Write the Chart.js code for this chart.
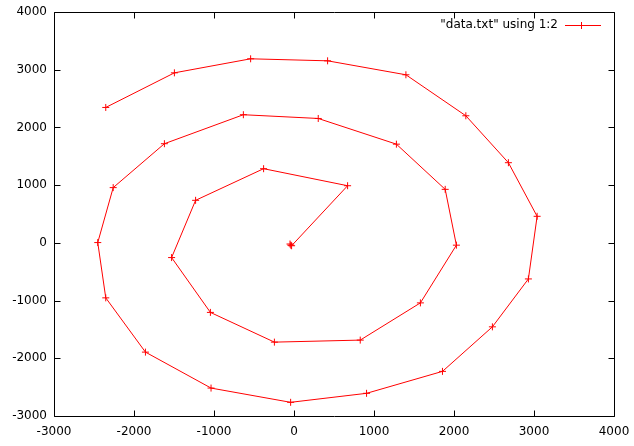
<!DOCTYPE html>
<html>
<head>
<meta charset="utf-8">
<script src="https://cdn.jsdelivr.net/npm/chart.js@4"></script>
<style>
html,body{margin:0;padding:0;background:#fff;}
#wrap{width:634px;height:446px;}
</style>
</head>
<body>
<div id="wrap"><canvas id="c" width="634" height="446"></canvas></div>
<script>
const seriesLabel = '"data.txt" using 1:2';
const xValues = [-50, -40, -30, 670, -380, -1230, -1530, -1045, -245, 828, 1580, 2030, 1890, 1280, 303, -633, -1620, -2260, -2453, -2353, -1857, -1037, -42, 907, 1856, 2480, 2930, 3039, 2680, 2148, 1399, 420, -542, -1495, -2353];
const yValues = [-20, -40, -50, 990, 1285, 737, -255, -1205, -1720, -1685, -1040, -40, 927, 1710, 2155, 2220, 1718, 957, 5, -953, -1893, -2516, -2763, -2607, -2227, -1455, -625, 460, 1389, 2202, 2912, 3154, 3189, 2946, 2346];
const xTicks = [-3000, -2000, -1000, 0, 1000, 2000, 3000, 4000];
const yTicks = [-3000, -2000, -1000, 0, 1000, 2000, 3000, 4000];

const points = xValues.map((x, i) => ({x: x, y: yValues[i]}));
const FONT = 'DejaVu Sans';

const gnuplotFrame = {
  id: 'gnuplotFrame',
  afterDraw(chart) {
    const ctx = chart.ctx;
    const a = chart.chartArea;
    const xs = chart.scales.x, ys = chart.scales.y;
    ctx.save();
    ctx.globalAlpha = 1;
    ctx.globalCompositeOperation = 'source-over';
    ctx.strokeStyle = '#000';
    ctx.lineWidth = 1;
    ctx.setLineDash([]);
    const L = Math.round(a.left) + 0.5, R = Math.round(a.right) + 0.5;
    const T = Math.round(a.top) + 0.5, B = Math.round(a.bottom) + 0.5;
    ctx.beginPath();
    ctx.rect(L, T, R - L, B - T);
    ctx.stroke();
    const tl = 6;
    ctx.beginPath();
    xTicks.forEach(v => {
      const px = Math.round(xs.getPixelForValue(v)) + 0.5;
      ctx.moveTo(px, B); ctx.lineTo(px, B - tl);
      ctx.moveTo(px, T); ctx.lineTo(px, T + tl);
    });
    yTicks.forEach(v => {
      const py = Math.round(ys.getPixelForValue(v)) + 0.5;
      ctx.moveTo(L, py); ctx.lineTo(L + tl, py);
      ctx.moveTo(R, py); ctx.lineTo(R - tl, py);
    });
    ctx.stroke();
    // key
    const ly = 25;
    ctx.fillStyle = '#000000';
    ctx.font = '12px "' + FONT + '"';
    ctx.textAlign = 'right';
    ctx.textBaseline = 'middle';
    ctx.fillText(seriesLabel, 558, ly);
    ctx.fillStyle = '#ff0000';
    ctx.fillRect(565, ly, 36, 1);
    ctx.fillRect(581, ly - 3, 1, 7);
    ctx.restore();
  }
};

new Chart(document.getElementById('c'), {
  type: 'scatter',
  data: {
    datasets: [{
      label: seriesLabel,
      data: points,
      showLine: true,
      borderColor: '#ff0000',
      backgroundColor: '#ff0000',
      borderWidth: 1,
      pointStyle: 'cross',
      pointRadius: 3.5,
      pointBorderWidth: 1,
      pointBorderColor: '#ff0000',
      pointHoverRadius: 3.5,
      tension: 0
    }]
  },
  options: {
    responsive: false,
    animation: false,
    devicePixelRatio: 1,
    layout: { padding: { top: 12, right: 20, left: 0, bottom: 0 } },
    plugins: { legend: { display: false }, tooltip: { enabled: false } },
    scales: {
      x: {
        type: 'linear',
        min: -3000, max: 4000,
        afterBuildTicks(scale) { scale.ticks = xTicks.map(v => ({value: v})); },
        afterFit(scale) { scale.height = 30; scale.paddingLeft = 0; scale.paddingRight = 0; },
        grid: { display: false, drawTicks: false },
        border: { display: false },
        ticks: { color: '#000', padding: 9, font: { family: FONT, size: 12 }, maxRotation: 0, autoSkip: false, callback: v => String(v) }
      },
      y: {
        type: 'linear',
        min: -3000, max: 4000,
        afterBuildTicks(scale) { scale.ticks = yTicks.map(v => ({value: v})); },
        afterFit(scale) { scale.width = 54; scale.paddingTop = 0; scale.paddingBottom = 0; },
        grid: { display: false, drawTicks: false },
        border: { display: false },
        ticks: { color: '#000', padding: 7, font: { family: FONT, size: 12 }, autoSkip: false, callback: v => String(v) }
      }
    }
  },
  plugins: [gnuplotFrame]
});
</script>
</body>
</html>
